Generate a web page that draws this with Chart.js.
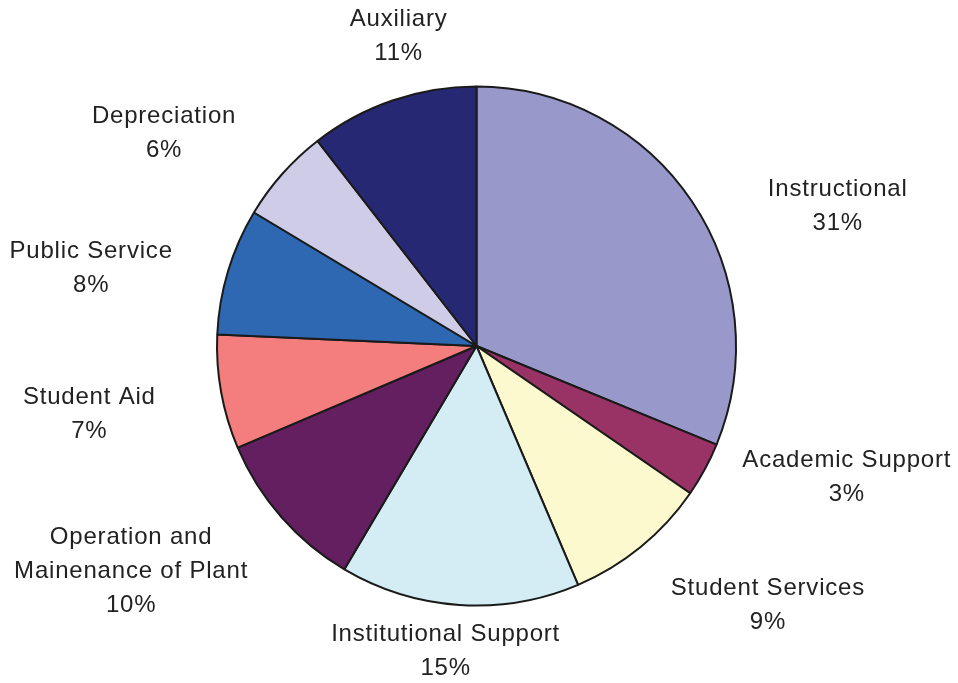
<!DOCTYPE html>
<html>
<head>
<meta charset="utf-8">
<script src="https://cdn.jsdelivr.net/npm/chart.js@4.4.1/dist/chart.umd.min.js"></script>
<style>
    body { margin: 0; background: #fff; }
    canvas { display: block; }
</style>
</head>
<body>
<canvas id="pieChart" width="958" height="683"></canvas>
<script>
// data (percent of total)
const categories = ["Instructional", "Academic Support", "Student Services", "Institutional Support",
    "Operation and\nMainenance of Plant", "Student Aid", "Public Service", "Depreciation", "Auxiliary"];
const shares = [31.2, 3.4, 9.0, 14.9, 10.1, 7.1, 7.9, 5.9, 10.5];
const sliceColors = ["#9898ca", "#993366", "#fcf9cf", "#d4ecf4", "#641f60", "#f47e7e", "#2e68b2", "#cecce7", "#272873"];

// where each label sits, relative to the pie center, in units of the radius
const labelOffsets = [
    [1.392, -0.537], [1.427, 0.506], [1.123, 1.0], [-0.119, 1.177], [-1.331, 0.869],
    [-1.492, 0.263], [-1.485, -0.298], [-1.204, -0.819], [-0.30, -1.194]
];

const outsideLabels = {
    id: "outsideLabels",
    afterDraw(chart) {
        const ctx = chart.ctx;
        const arc = chart.getDatasetMeta(0).data[0];
        const cx = arc.x, cy = arc.y, r = arc.outerRadius;
        const total = shares.reduce((a, b) => a + b, 0);
        ctx.save();
        ctx.font = "24px 'Liberation Sans', Arial, sans-serif";
        ctx.letterSpacing = "0.8px";
        ctx.fillStyle = "#222";
        ctx.textAlign = "center";
        ctx.textBaseline = "middle";
        const lineH = 34;
        categories.forEach((name, i) => {
            const lines = name.split("\n");
            lines.push(Math.round(shares[i] / total * 100) + "%");
            const x = cx + labelOffsets[i][0] * r;
            const y0 = cy + labelOffsets[i][1] * r - (lines.length - 1) * lineH / 2;
            lines.forEach((t, j) => ctx.fillText(t, x, y0 + j * lineH));
        });
        ctx.restore();
    }
};

new Chart(document.getElementById("pieChart"), {
    type: "pie",
    data: {
        labels: categories,
        datasets: [{
            data: shares,
            backgroundColor: sliceColors,
            borderColor: "#1a1a1a",
            borderWidth: 2
        }]
    },
    options: {
        responsive: false,
        animation: false,
        layout: { padding: { left: 216, right: 221, top: 85, bottom: 76 } },
        plugins: {
            legend: { display: false },
            tooltip: { enabled: false }
        }
    },
    plugins: [outsideLabels]
});
</script>
</body>
</html>
